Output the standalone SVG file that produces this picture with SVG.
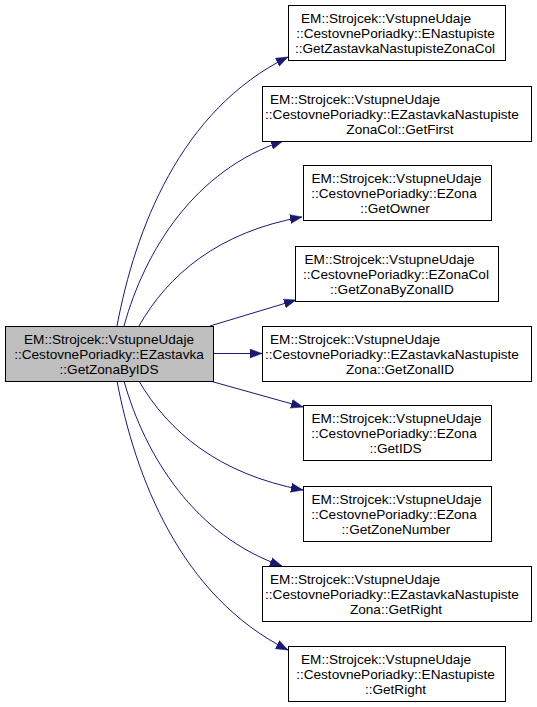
<svg xmlns="http://www.w3.org/2000/svg" width="537" height="707" viewBox="0 0 537 707">
<style>
.box{fill:#ffffff;stroke:#000000;stroke-width:1}
.root{fill:#bfbfbf;stroke:#000000;stroke-width:1}
text{font-family:"Liberation Sans",Arial,sans-serif;font-size:13.6px;fill:#000000;text-anchor:middle}
.edge{fill:none;stroke:#191970;stroke-width:1;marker-end:url(#arr)}
</style>
<defs>
<marker id="arr" viewBox="0 -5 12 10" refX="12" refY="0" markerWidth="12" markerHeight="10" markerUnits="userSpaceOnUse" orient="auto">
<path d="M0,-4.5 L12,0 L0,4.5 z" fill="#191970" stroke="#191970" stroke-width="0.5"/>
</marker>
</defs>
<rect width="537" height="707" fill="#ffffff"/>
<g id="connectors">
<path class="edge" d="M117,326 C135,230 180,110 288,57"/>
<path class="edge" d="M124,326 C145,250 195,170 283,141"/>
<path class="edge" d="M139,326 C168,275 218,232 302,217"/>
<path class="edge" d="M210,326 L296,300"/>
<path class="edge" d="M213,353.5 L262,353.5"/>
<path class="edge" d="M210,381 L303,407"/>
<path class="edge" d="M139,381 C168,431 218,474 303,490"/>
<path class="edge" d="M124,381 C145,456 195,536 282,566"/>
<path class="edge" d="M117,381 C135,476 180,596 288,650"/>
</g>
<g id="root">
<rect class="root" x="5.5" y="326.5" width="208" height="55"/>
<text x="109" y="343.5">EM::Strojcek::VstupneUdaje</text>
<text x="109" y="358.5">::CestovnePoriadky::EZastavka</text>
<text x="109" y="373.5">::GetZonaByIDS</text>
</g>
<g id="n1">
<rect class="box" x="288.5" y="5.5" width="217" height="55"/>
<text x="386" y="22.5">EM::Strojcek::VstupneUdaje</text>
<text x="395.5" y="37.5">::CestovnePoriadky::ENastupiste</text>
<text x="395" y="52.5">::GetZastavkaNastupisteZonaCol</text>
</g>
<g id="n2">
<rect class="box" x="262.5" y="86.5" width="269" height="55"/>
<text x="355" y="103.5">EM::Strojcek::VstupneUdaje</text>
<text x="392" y="118.5">::CestovnePoriadky::EZastavkaNastupiste</text>
<text x="400" y="133.5">ZonaCol::GetFirst</text>
</g>
<g id="n3">
<rect class="box" x="303.5" y="165.5" width="188" height="55"/>
<text x="396.5" y="182.5">EM::Strojcek::VstupneUdaje</text>
<text x="394" y="197.5">::CestovnePoriadky::EZona</text>
<text x="395" y="212.5">::GetOwner</text>
</g>
<g id="n4">
<rect class="box" x="295.5" y="246.5" width="203" height="55"/>
<text x="389.5" y="263.5">EM::Strojcek::VstupneUdaje</text>
<text x="396" y="278.5">::CestovnePoriadky::EZonaCol</text>
<text x="392" y="293.5">::GetZonaByZonalID</text>
</g>
<g id="n5">
<rect class="box" x="262.5" y="326.5" width="269" height="55"/>
<text x="355" y="343.5">EM::Strojcek::VstupneUdaje</text>
<text x="392" y="358.5">::CestovnePoriadky::EZastavkaNastupiste</text>
<text x="400" y="373.5">Zona::GetZonalID</text>
</g>
<g id="n6">
<rect class="box" x="303.5" y="405.5" width="188" height="55"/>
<text x="396.5" y="422.5">EM::Strojcek::VstupneUdaje</text>
<text x="394" y="437.5">::CestovnePoriadky::EZona</text>
<text x="395.5" y="452.5">::GetIDS</text>
</g>
<g id="n7">
<rect class="box" x="303.5" y="486.5" width="188" height="55"/>
<text x="396.5" y="503.5">EM::Strojcek::VstupneUdaje</text>
<text x="394" y="518.5">::CestovnePoriadky::EZona</text>
<text x="396" y="533.5">::GetZoneNumber</text>
</g>
<g id="n8">
<rect class="box" x="262.5" y="566.5" width="269" height="55"/>
<text x="355" y="583.5">EM::Strojcek::VstupneUdaje</text>
<text x="392" y="598.5">::CestovnePoriadky::EZastavkaNastupiste</text>
<text x="396" y="613.5">Zona::GetRight</text>
</g>
<g id="n9">
<rect class="box" x="288.5" y="646.5" width="217" height="55"/>
<text x="386" y="663.5">EM::Strojcek::VstupneUdaje</text>
<text x="395.5" y="678.5">::CestovnePoriadky::ENastupiste</text>
<text x="395.5" y="693.5">::GetRight</text>
</g>
</svg>
